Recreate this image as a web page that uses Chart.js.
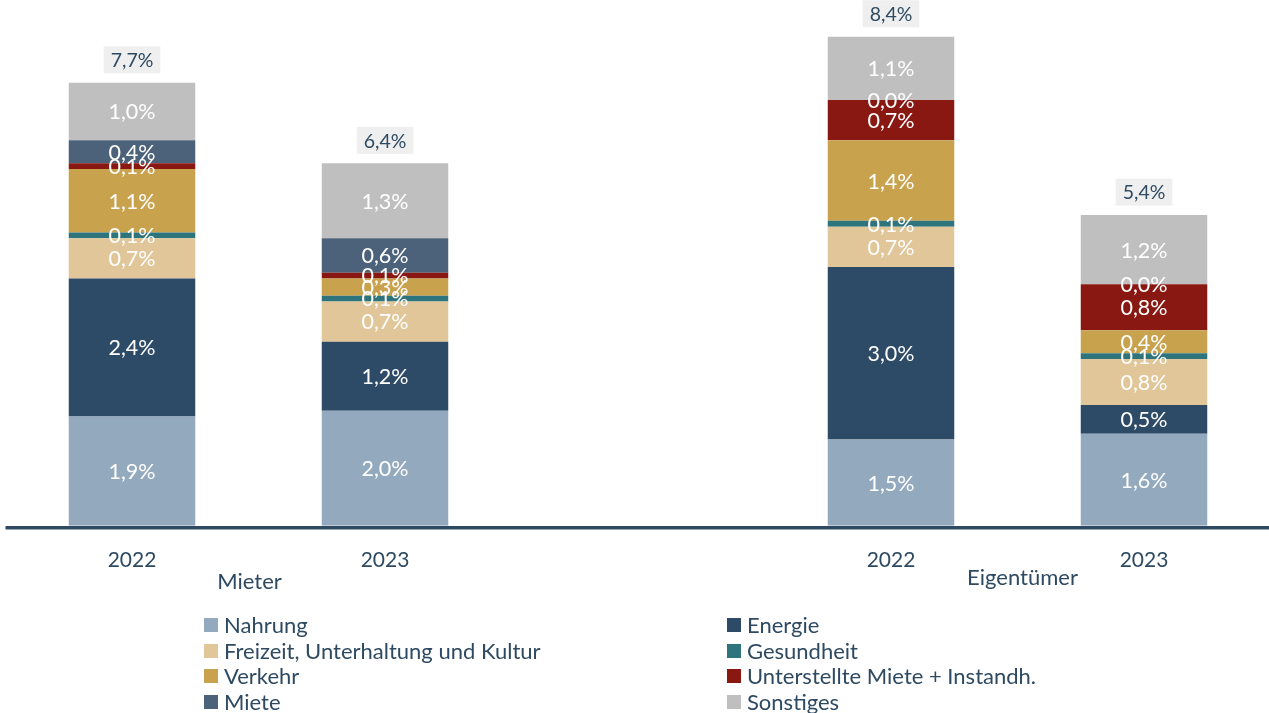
<!DOCTYPE html>
<html lang="de">
<head>
<meta charset="utf-8">
<title>Inflationsbeiträge Mieter und Eigentümer</title>
<script src="https://cdn.jsdelivr.net/npm/chart.js@4/dist/chart.umd.min.js"></script>
<style>
  html, body { margin: 0; padding: 0; background: #ffffff; overflow: hidden; }
  #wrap { position: relative; width: 1269px; height: 713px; overflow: hidden; }
  #chart { position: absolute; left: 0; top: 0; }
  #legend {
    position: absolute; left: 204px; top: 612px;
    display: grid; grid-template-columns: 523px 420px; grid-auto-rows: 25.7px;
    font-family: 'Lato', 'Liberation Sans', sans-serif; font-size: 22px; color: #2E4A62;
  }
  .item { display: flex; align-items: center; white-space: nowrap; line-height: 25.7px; }
  .box { width: 14px; height: 14px; margin-right: 6px; flex: none; }
</style>
</head>
<body>
<div id="wrap">
  <canvas id="chart" width="1271" height="713"></canvas>
  <div id="legend"></div>
</div>
<script>
// Kategorien: zwei Jahre je Haushaltsgruppe, mit Lücke dazwischen
const categories = ['2022', '2023', '', '2022', '2023'];
const groups = ['Mieter', 'Eigentümer'];

// Beiträge zur Inflationsrate in Prozentpunkten
const nahrung      = [1.9, 2.0, null, 1.5, 1.6];
const energie      = [2.4, 1.2, null, 3.0, 0.5];
const freizeit     = [0.7, 0.7, null, 0.7, 0.8];
const gesundheit   = [0.1, 0.1, null, 0.1, 0.1];
const verkehr      = [1.1, 0.3, null, 1.4, 0.4];
const unterstellte = [0.1, 0.1, null, 0.7, 0.8];
const miete        = [0.4, 0.6, null, 0.0, 0.0];
const sonstiges    = [1.0, 1.3, null, 1.1, 1.2];

// Gesamtrate je Säule
const totals = [7.7, 6.4, null, 8.4, 5.4];

const seriesNames = [
  'Nahrung', 'Energie', 'Freizeit, Unterhaltung und Kultur', 'Gesundheit',
  'Verkehr', 'Unterstellte Miete + Instandh.', 'Miete', 'Sonstiges'
];
const seriesData = [nahrung, energie, freizeit, gesundheit, verkehr, unterstellte, miete, sonstiges];
const seriesColors = ['#93A9BE', '#2D4A66', '#E0C698', '#2E747C', '#C9A24E', '#8A1812', '#4C627A', '#BFBFBF'];

const FONT = "'Lato', 'Liberation Sans', sans-serif";
const TEXT = '#2E4A62';

const fmt = v => v.toFixed(1).replace('.', ',') + '%';

// Werte in den Segmenten, Summen darüber, Gruppenbeschriftung unter der Achse
const labelPlugin = {
  id: 'labels',
  afterDatasetsDraw(chart) {
    const ctx = chart.ctx;
    ctx.save();
    ctx.textAlign = 'center';
    ctx.textBaseline = 'middle';
    ctx.font = '21.5px ' + FONT;
    ctx.fillStyle = '#ffffff';
    chart.data.datasets.forEach((ds, i) => {
      const meta = chart.getDatasetMeta(i);
      meta.data.forEach((bar, j) => {
        const v = ds.data[j];
        if (v === null || v === undefined) return;
        const c = bar.getCenterPoint();
        ctx.fillText(fmt(v), c.x, c.y + 1);
      });
    });

    // Summen über den Säulen
    const last = chart.getDatasetMeta(chart.data.datasets.length - 1);
    ctx.font = '19.5px ' + FONT;
    totals.forEach((t, j) => {
      if (t === null) return;
      const bar = last.data[j];
      const x = bar.x;
      const y = bar.y - 23;
      const w = ctx.measureText(fmt(t)).width + 14;
      const h = 27;
      ctx.fillStyle = '#EFEFEF';
      ctx.fillRect(x - w / 2, y - h / 2, w, h);
      ctx.fillStyle = TEXT;
      ctx.fillText(fmt(t), x, y + 1);
    });

    // Gruppennamen zwischen den Jahreslabels
    const xs = chart.scales.x;
    ctx.font = '22px ' + FONT;
    ctx.fillStyle = TEXT;
    const g1 = (xs.getPixelForValue(0) + xs.getPixelForValue(1)) / 2 - 9;
    const g2 = (xs.getPixelForValue(3) + xs.getPixelForValue(4)) / 2 + 5;
    ctx.fillText(groups[0], g1, chart.chartArea.bottom + 56);
    ctx.fillText(groups[1], g2, chart.chartArea.bottom + 52);
    ctx.restore();
  }
};

// Achsenlinie unten
const axisLinePlugin = {
  id: 'axisLine',
  afterDatasetsDraw(chart) {
    const { ctx, chartArea } = chart;
    ctx.save();
    ctx.strokeStyle = '#2E4A62';
    ctx.lineWidth = 3.5;
    ctx.beginPath();
    ctx.moveTo(chartArea.left, chartArea.bottom + 2);
    ctx.lineTo(chartArea.right, chartArea.bottom + 2);
    ctx.stroke();
    ctx.restore();
  }
};

Chart.defaults.font.family = FONT;

new Chart(document.getElementById('chart'), {
  type: 'bar',
  data: {
    labels: categories,
    datasets: seriesNames.map((name, i) => ({
      label: name,
      data: seriesData[i],
      backgroundColor: seriesColors[i],
      borderWidth: 0,
      barPercentage: 1,
      categoryPercentage: 0.5
    }))
  },
  options: {
    responsive: false,
    animation: false,
    layout: { padding: { left: 5.5, right: 0.5, top: 8, bottom: 118 } },
    plugins: { legend: { display: false }, tooltip: { enabled: false } },
    scales: {
      x: {
        stacked: true,
        grid: { display: false, drawTicks: false },
        border: { display: false },
        ticks: { color: TEXT, font: { size: 21 }, padding: 22 }
      },
      y: {
        stacked: true,
        display: false,
        min: 0,
        max: 9
      }
    }
  },
  plugins: [labelPlugin, axisLinePlugin]
});

// Legende in zwei Spalten
const legend = document.getElementById('legend');
seriesNames.forEach((name, i) => {
  const item = document.createElement('div');
  item.className = 'item';
  const box = document.createElement('span');
  box.className = 'box';
  box.style.background = seriesColors[i];
  const txt = document.createElement('span');
  txt.textContent = name;
  item.appendChild(box);
  item.appendChild(txt);
  legend.appendChild(item);
});
</script>
</body>
</html>
